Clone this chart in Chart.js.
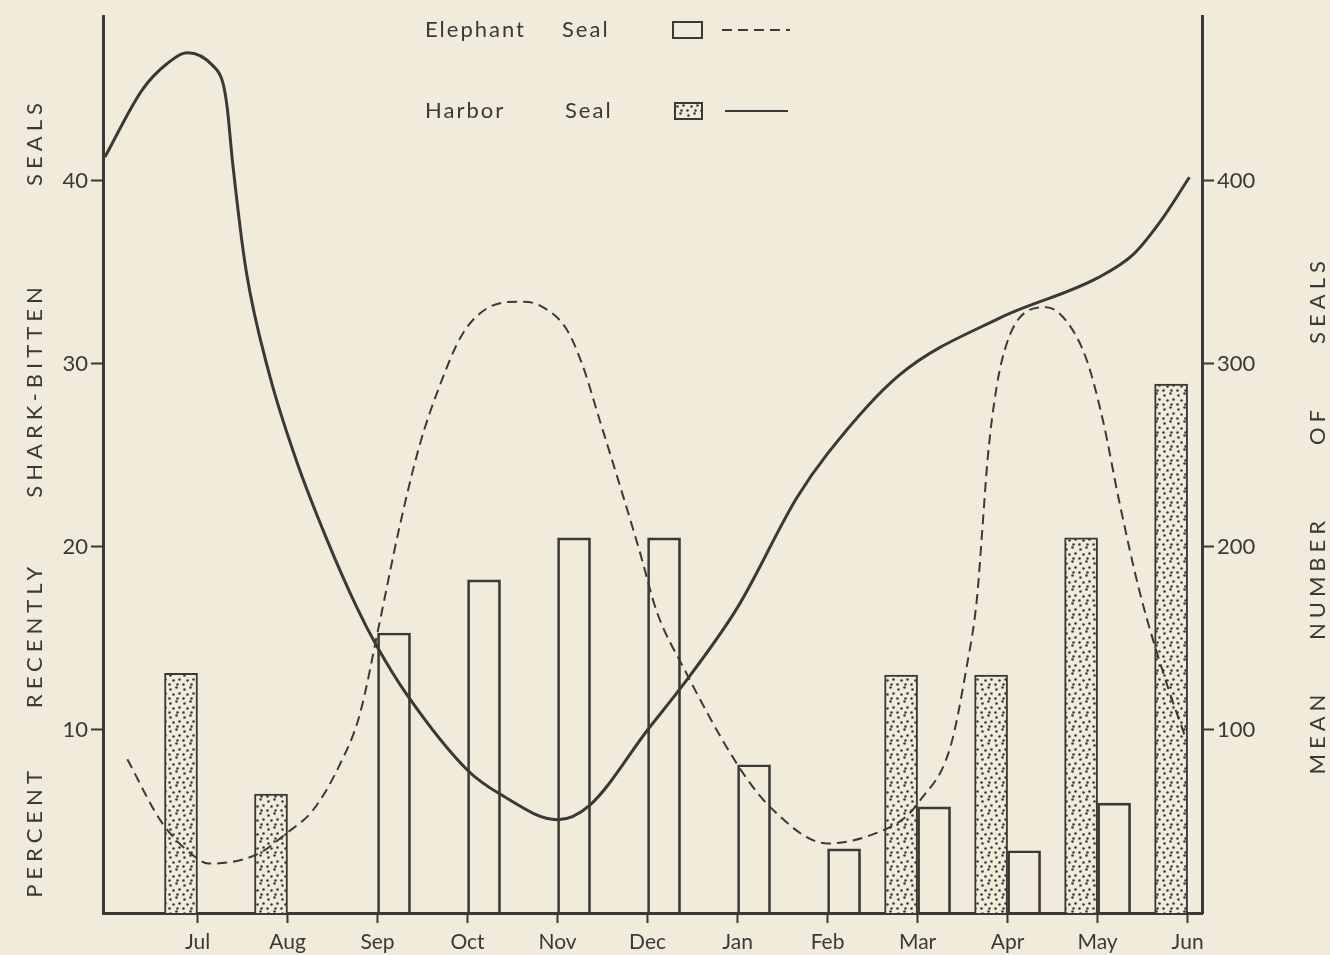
<!DOCTYPE html>
<html>
<head>
<meta charset="utf-8">
<script src="https://cdn.jsdelivr.net/npm/chart.js@4.4.1/dist/chart.umd.min.js"></script>
<style>
  html, body { margin: 0; padding: 0; background: #f0ebda; }
  #myChart { display: block; }
</style>
</head>
<body>
<canvas id="myChart" width="1330" height="955"></canvas>
<script>
// months, Jul = 1 ... Jun = 12
var months = ["Jul", "Aug", "Sep", "Oct", "Nov", "Dec", "Jan", "Feb", "Mar", "Apr", "May", "Jun"];

// percent recently shark-bitten (bars, left axis)
var harborPct   = [13.1, 6.5, null, null, null, null, null, null, 13.0, 13.0, 20.5, 28.9];
var elephantPct = [null, null, 15.3, 18.2, 20.5, 20.5, 8.1, 3.5, 5.8, 3.4, 6.0, null];

// mean number of seals (curves, right axis)
var harborX = [-0.03, 0.39, 0.66, 0.89, 1.17, 1.28, 1.33, 1.39, 1.54, 1.80, 2.10, 2.43, 2.77, 2.99, 3.33, 4.0, 4.36, 5.0, 5.36, 6.0, 6.4, 7.0, 7.66, 8.0, 8.8, 9.91, 11.0, 11.4, 11.7, 12.02];
var harborN = [413, 450, 464, 470, 463, 454, 440, 410, 351, 294, 247, 205, 167, 146, 119, 78, 65, 51, 59, 100, 125, 167, 227, 251, 294, 325, 347, 360, 378, 402];

var elephantX = [0.22, 0.61, 1.02, 1.12, 1.66, 2.0, 2.28, 2.58, 2.8, 3.02, 3.24, 3.47, 3.69, 3.94, 4.24, 4.58, 4.80, 5.10, 5.28, 5.47, 5.69, 5.91, 6.10, 6.4, 7.0, 7.36, 8.0, 8.61, 8.88, 9.02, 9.36, 9.54, 9.66, 9.72, 9.78, 9.88, 9.99, 10.13, 10.43, 10.66, 10.88, 11.06, 11.24, 11.47, 11.77, 11.99];
var elephantN = [84, 49, 29, 27, 32, 44, 56, 81, 108, 158, 210, 256, 288, 316, 331, 334, 332, 319, 299, 269, 234, 198, 165, 134, 81, 58, 38, 45, 53, 61, 90, 133, 172, 210, 249, 288, 311, 325, 331, 323, 302, 269, 225, 175, 125, 94];

var pctTicks = [10, 20, 30, 40];
var numTicks = [100, 200, 300, 400];

var ink = "#3b3937";
var paper = "#f0ebda";
var font = "Lato";

// stipple pattern for harbor seal bars
var pc = document.createElement("canvas");
pc.width = 14; pc.height = 14;
var pctx = pc.getContext("2d");
pctx.fillStyle = paper;
pctx.fillRect(0, 0, 14, 14);
pctx.fillStyle = ink;
[[2, 3], [8, 1], [11, 7], [5, 8], [1, 12], [9, 12]].forEach(function (d) {
  pctx.beginPath();
  pctx.arc(d[0] + 0.5, d[1] + 0.5, 1.3, 0, Math.PI * 2);
  pctx.fill();
});
var ctx = document.getElementById("myChart").getContext("2d");
var stipple = ctx.createPattern(pc, "repeat");

function pts(xs, ys) {
  return xs.map(function (x, i) { return { x: x, y: ys[i] }; });
}
function barPts(vals) {
  return vals.map(function (v, i) { return { x: i + 1, y: v }; });
}

var textPlugin = {
  id: "textPlugin",
  afterDraw: function (chart) {
    var c = chart.ctx;
    c.save();
    c.fillStyle = ink;
    c.strokeStyle = ink;
    c.font = "22px " + font;
    c.letterSpacing = "2px";
    c.textBaseline = "middle";
    c.textAlign = "left";
    // legend
    c.fillText("Elephant", 425, 30);
    c.fillText("Seal", 562, 30);
    c.fillText("Harbor", 425, 111);
    c.fillText("Seal", 565, 111);
    c.lineWidth = 2;
    c.strokeRect(673, 22, 29, 16);
    c.fillStyle = stipple;
    c.fillRect(675, 103, 27, 16);
    c.strokeRect(675, 103, 27, 16);
    c.setLineDash([10, 6]);
    c.beginPath(); c.moveTo(722, 30); c.lineTo(790, 30); c.stroke();
    c.setLineDash([]);
    c.beginPath(); c.moveTo(725, 111); c.lineTo(788, 111); c.stroke();
    // axis titles
    c.fillStyle = ink;
    c.letterSpacing = "5px";
    c.textAlign = "center";
    var left = [["PERCENT", 832], ["RECENTLY", 635], ["SHARK-BITTEN", 390], ["SEALS", 142]];
    left.forEach(function (w) {
      c.save(); c.translate(35, w[1]); c.rotate(-Math.PI / 2); c.fillText(w[0], 0, 0); c.restore();
    });
    var right = [["MEAN", 732], ["NUMBER", 578], ["OF", 425], ["SEALS", 300]];
    right.forEach(function (w) {
      c.save(); c.translate(1318, w[1]); c.rotate(-Math.PI / 2); c.fillText(w[0], 0, 0); c.restore();
    });
    c.restore();
  }
};

var myChart = new Chart(ctx, {
  type: "bar",
  data: {
    datasets: [
      {
        type: "line", label: "Harbor Seal (number)", data: pts(harborX, harborN), yAxisID: "y1",
        borderColor: ink, borderWidth: 3, pointRadius: 0, cubicInterpolationMode: "monotone", order: 0
      },
      {
        type: "line", label: "Elephant Seal (number)", data: pts(elephantX, elephantN), yAxisID: "y1",
        borderColor: ink, borderWidth: 2, borderDash: [10, 6], pointRadius: 0, cubicInterpolationMode: "monotone", order: 0
      },
      {
        label: "Harbor Seal", data: barPts(harborPct), yAxisID: "y",
        backgroundColor: stipple, borderColor: ink, borderWidth: 2, barThickness: 33, order: 1
      },
      {
        label: "Elephant Seal", data: barPts(elephantPct), yAxisID: "y",
        backgroundColor: "rgba(0,0,0,0)", borderColor: ink, borderWidth: 2, barThickness: 33, order: 1
      }
    ]
  },
  options: {
    responsive: false,
    animation: false,
    layout: { padding: { top: 14 } },
    plugins: { legend: { display: false }, tooltip: { enabled: false } },
    scales: {
      x: {
        type: "linear", min: -0.05, max: 12.16, offset: false,
        grid: { drawOnChartArea: false, offset: false, tickLength: 10, tickWidth: 2, tickColor: ink },
        border: { display: true, width: 3, color: ink },
        ticks: {
          color: ink, padding: 7, font: { family: font, size: 21 },
          callback: function (v) { return months[v - 1]; }
        },
        afterBuildTicks: function (s) { s.ticks = months.map(function (m, i) { return { value: i + 1 }; }); },
        afterFit: function (s) { s.height = 42; }
      },
      y: {
        position: "left", min: 0, max: 49,
        grid: { drawOnChartArea: false, tickLength: 12, tickWidth: 2, tickColor: ink },
        border: { display: true, width: 3, color: ink },
        ticks: { color: ink, padding: 3, font: { family: font, size: 22 } },
        afterBuildTicks: function (s) { s.ticks = pctTicks.map(function (v) { return { value: v }; }); },
        afterFit: function (s) { s.width = 103; }
      },
      y1: {
        position: "right", min: 0, max: 490,
        grid: { drawOnChartArea: false, tickLength: 12, tickWidth: 2, tickColor: ink },
        border: { display: true, width: 3, color: ink },
        ticks: { color: ink, padding: 3, font: { family: font, size: 22 } },
        afterBuildTicks: function (s) { s.ticks = numTicks.map(function (v) { return { value: v }; }); },
        afterFit: function (s) { s.width = 128; }
      }
    }
  },
  plugins: [textPlugin]
});
</script>
</body>
</html>
